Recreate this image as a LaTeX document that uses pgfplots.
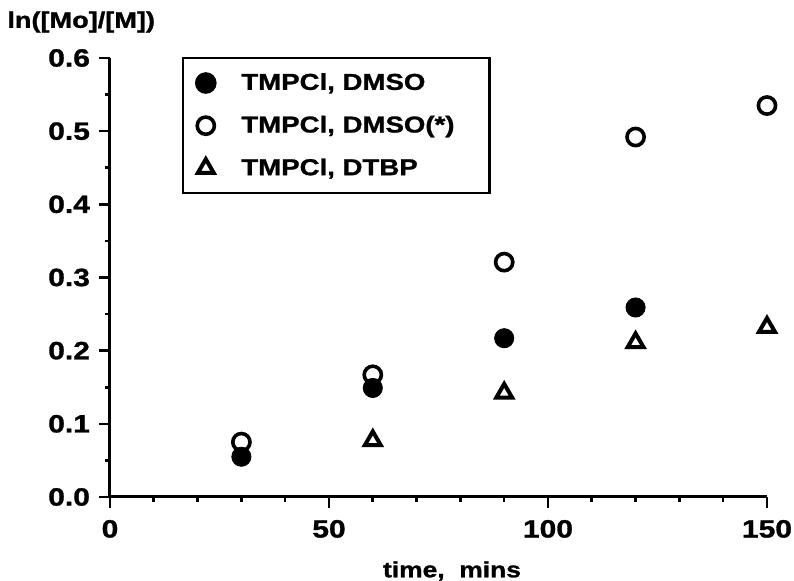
\documentclass[border=0pt]{standalone}
\usepackage{fontspec}
\setmainfont{Liberation Sans}[FakeStretch=1.2, BoldFeatures={FakeBold=1.2}]
\usepackage{pgfplots}
\pgfplotsset{compat=1.18}
\begin{document}
\begin{tikzpicture}
\path[use as bounding box] (-55pt,-42pt) rectangle (342pt,248.5pt);
\begin{axis}[
  at={(0pt,0pt)}, anchor=south west,
  scale only axis, width=328.5pt, height=219.5pt,
  xmin=0, xmax=150, ymin=0, ymax=0.6,
  axis x line=bottom, axis y line=left,
  axis line style={-, line width=1.5pt, black},
  clip=false,
  tick align=outside,
  major tick length=5.5pt, minor tick length=2.5pt,
  tick style={line width=1.3pt, black},
  xtick={0,50,100,150},
  minor xtick={10,20,30,40,60,70,80,90,110,120,130,140},
  ytick={0,0.1,0.2,0.3,0.4,0.5,0.6},
  yticklabels={0.0,0.1,0.2,0.3,0.4,0.5,0.6},
  minor ytick={0.05,0.15,0.25,0.35,0.45,0.55},
  /pgf/number format/assume math mode=true,
  every tick label/.append style={font=\fontsize{12.5}{14}\selectfont\bfseries},
  xticklabel style={yshift=-2.5pt},
  yticklabel style={xshift=-1pt},
  legend style={at={(axis description cs:0.1096,1.0023)}, anchor=north west,
    draw=black, line width=1.2pt, font=\fontsize{11.5}{14}\selectfont\bfseries,
    row sep=7.5pt, inner xsep=6.5pt, inner ysep=5.5pt},
  legend cell align=left,
]
\addplot[only marks, mark=*, mark size=4.8pt, black] coordinates {
  (30,0.055) (60,0.149) (90,0.217) (120,0.259)
};
\addlegendentry{\makebox[126.5pt][l]{\hspace*{11pt}TMPCl, DMSO}}
\addplot[only marks, mark=o, mark size=4.3pt, line width=1.8pt, black] coordinates {
  (30,0.075) (60,0.167) (90,0.321) (120,0.492) (150,0.535)
};
\addlegendentry{\hspace*{11pt}TMPCl, DMSO(*)}
\addplot[only marks, mark=triangle, mark size=4.6pt, line width=2pt, black] coordinates {
  (60,0.077) (90,0.142) (120,0.211) (150,0.232)
};
\addlegendentry{\hspace*{11pt}TMPCl, DTBP}
\end{axis}
\node[anchor=west, inner sep=0pt, font=\fontsize{11.3}{13}\selectfont\bfseries] at (-51.5pt,237.5pt) {ln([Mo]/[M])};
\node[inner sep=0pt, font=\fontsize{11}{13}\selectfont\bfseries] at (171pt,-37pt) {time,\ \ mins};
\end{tikzpicture}
\end{document}
